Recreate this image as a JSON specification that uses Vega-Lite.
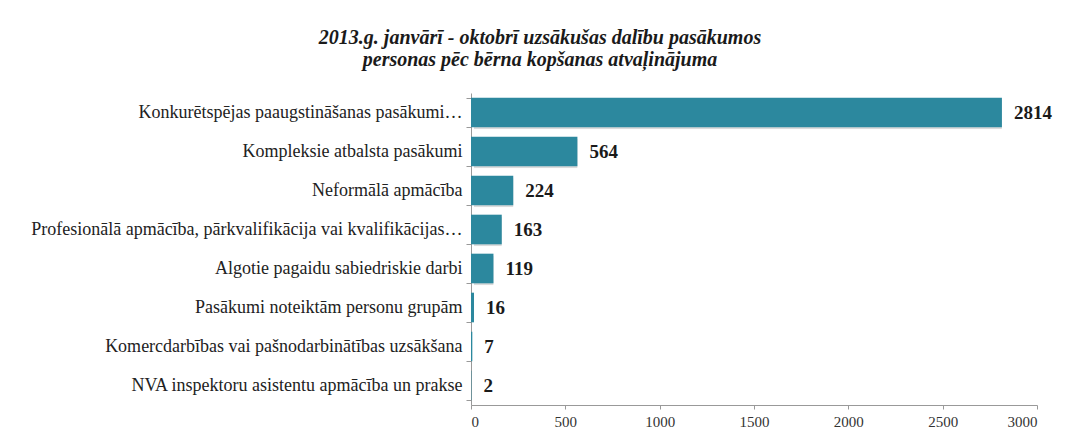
{
  "$schema": "https://vega.github.io/schema/vega-lite/v6.json",
  "width": 566,
  "height": 312,
  "autosize": "none",
  "padding": {"left": 471, "top": 93, "right": 29, "bottom": 33},
  "background": "white",
  "config": {"view": {"stroke": null}, "font": "Liberation Serif"},
  "title": {
    "text": "2013.g. janvārī - oktobrī uzsākušas dalību pasākumos",
    "subtitle": "personas pēc bērna kopšanas atvaļinājuma",
    "font": "Liberation Serif",
    "fontSize": 20,
    "fontStyle": "italic",
    "fontWeight": "bold",
    "color": "#1a1a1a",
    "subtitleFont": "Liberation Serif",
    "subtitleFontSize": 20,
    "subtitleFontStyle": "italic",
    "subtitleFontWeight": "bold",
    "subtitleColor": "#1a1a1a",
    "subtitlePadding": 2,
    "anchor": "middle",
    "dx": -214,
    "offset": 14
  },
  "data": {
    "values": [
      {"cat": "Konkurētspējas paaugstināšanas pasākumi…", "v": 2814, "o": 1},
      {"cat": "Kompleksie atbalsta pasākumi", "v": 564, "o": 2},
      {"cat": "Neformālā apmācība", "v": 224, "o": 3},
      {"cat": "Profesionālā apmācība, pārkvalifikācija vai kvalifikācijas…", "v": 163, "o": 4},
      {"cat": "Algotie pagaidu sabiedriskie darbi", "v": 119, "o": 5},
      {"cat": "Pasākumi noteiktām personu grupām", "v": 16, "o": 6},
      {"cat": "Komercdarbības vai pašnodarbinātības uzsākšana", "v": 7, "o": 7},
      {"cat": "NVA inspektoru asistentu apmācība un prakse", "v": 2, "o": 8}
    ]
  },
  "encoding": {
    "y": {
      "field": "cat",
      "type": "nominal",
      "sort": {"field": "o", "order": "ascending"},
      "title": null,
      "scale": {"paddingInner": 0.24, "paddingOuter": 0.12},
      "axis": {
        "labelFont": "Liberation Serif",
        "labelFontSize": 18,
        "labelColor": "#222",
        "labelLimit": 470,
        "labelPadding": 4,
        "tickBand": "extent",
        "tickSize": 5,
        "tickColor": "#999",
        "domainColor": "#999"
      }
    },
    "x": {
      "field": "v",
      "type": "quantitative",
      "title": null,
      "scale": {"domain": [0, 3000]},
      "axis": {
        "values": [0, 500, 1000, 1500, 2000, 2500, 3000],
        "format": "d",
        "grid": false,
        "labelFont": "Liberation Serif",
        "labelFontSize": 15,
        "labelColor": "#333",
        "tickSize": 4,
        "tickColor": "#999",
        "domainColor": "#999",
        "labelPadding": 5
      }
    }
  },
  "layer": [
    {
      "mark": {"type": "bar", "color": "#bdbdbd", "opacity": 0.55, "xOffset": 3, "yOffset": 2, "cornerRadius": 1},
      "encoding": {}
    },
    {
      "mark": {"type": "bar", "color": "#2c889e"},
      "encoding": {}
    },
    {
      "mark": {"type": "text", "align": "left", "dx": 12, "font": "Liberation Serif", "fontSize": 19, "fontWeight": "bold", "color": "#1a1a1a"},
      "encoding": {"text": {"field": "v", "type": "quantitative"}}
    }
  ]
}
